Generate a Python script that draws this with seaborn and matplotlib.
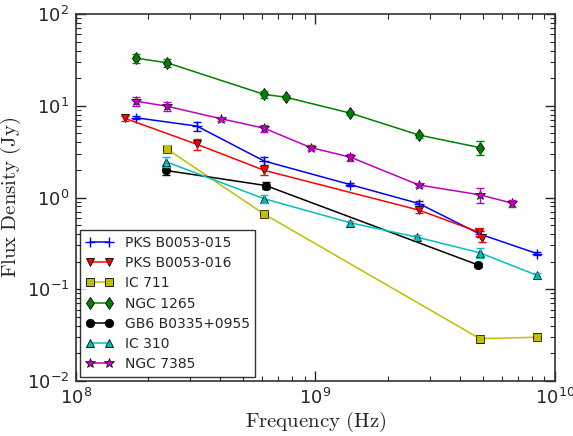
import matplotlib
matplotlib.use("Agg")
import matplotlib.pyplot as plt
import seaborn as sns
import pandas as pd
import numpy as np

# frequencies (Hz), flux densities (Jy) and errors per source
pks015_f = [1.78e8, 3.2e8, 6.1e8, 1.4e9, 2.7e9, 4.85e9, 8.4e9]
pks015_s = [7.4, 6.0, 2.5, 1.38, 0.86, 0.40, 0.245]
pks015_e = [0.3, 0.7, 0.25, 0.05, 0.06, 0.03, 0.01]

pks016_f = [1.6e8, 3.2e8, 6.1e8, 2.7e9, 4.8e9, 4.95e9]
pks016_s = [7.3, 3.8, 1.98, 0.73, 0.42, 0.36]
pks016_e = [0.4, 0.5, 0.2, 0.05, 0.04, 0.03]

ic711_f = [2.39e8, 6.1e8, 4.85e9, 8.4e9]
ic711_s = [3.4, 0.66, 0.029, 0.030]
ic711_e = [0.3, 0.05, 0.002, 0.002]

ngc1265_f = [1.78e8, 2.39e8, 6.1e8, 7.5e8, 1.4e9, 2.7e9, 4.85e9]
ngc1265_s = [33.0, 29.5, 13.3, 12.4, 8.3, 4.8, 3.5]
ngc1265_e = [3.5, 3.0, 1.3, 0.6, 0.4, 0.3, 0.6]

gb6_f = [2.38e8, 6.2e8, 4.75e9]
gb6_s = [1.97, 1.35, 0.185]
gb6_e = [0.2, 0.12, 0.01]

ic310_f = [2.38e8, 6.1e8, 1.4e9, 2.65e9, 4.85e9, 8.4e9]
ic310_s = [2.45, 0.97, 0.53, 0.37, 0.25, 0.142]
ic310_e = [0.3, 0.1, 0.03, 0.02, 0.03, 0.01]

ngc7385_f = [1.78e8, 2.39e8, 4.05e8, 6.1e8, 9.55e8, 1.4e9, 2.7e9, 4.85e9, 6.6e9]
ngc7385_s = [11.2, 9.9, 7.2, 5.7, 3.5, 2.75, 1.37, 1.07, 0.87]
ngc7385_e = [1.2, 1.1, 0.3, 0.5, 0.2, 0.25, 0.08, 0.2, 0.08]

sources = [
    ("PKS B0053-015", pks015_f, pks015_s, pks015_e, "blue", "+"),
    ("PKS B0053-016", pks016_f, pks016_s, pks016_e, "red", "v"),
    ("IC 711", ic711_f, ic711_s, ic711_e, "#bfbf00", "s"),
    ("NGC 1265", ngc1265_f, ngc1265_s, ngc1265_e, "green", "d"),
    ("GB6 B0335+0955", gb6_f, gb6_s, gb6_e, "black", "o"),
    ("IC 310", ic310_f, ic310_s, ic310_e, "#00bfbf", "^"),
    ("NGC 7385", ngc7385_f, ngc7385_s, ngc7385_e, "#bf00bf", "*"),
]

sns.set_style("ticks")
plt.rcParams["mathtext.fontset"] = "cm"
plt.rcParams["font.family"] = ["DejaVu Sans"]

fig = plt.figure(figsize=(5.73, 4.36), dpi=100)
ax = fig.add_axes([0.1326, 0.1261, 0.836, 0.8418])

for name, f, s, e, color, marker in sources:
    df = pd.DataFrame({"freq": f, "flux": s})
    if marker == "+":
        style = dict(markersize=7, markeredgecolor=color, markeredgewidth=1.0)
    elif marker == "*":
        style = dict(markersize=7, markeredgecolor="k", markeredgewidth=0.5)
    else:
        style = dict(markersize=6, markeredgecolor="k", markeredgewidth=0.6)
    sns.lineplot(data=df, x="freq", y="flux", ax=ax, sort=False, color=color,
                 marker=marker, linewidth=1.1, label=name, **style)
    ax.errorbar(f, s, yerr=e, fmt="none", ecolor=color, elinewidth=1.0, capsize=3, capthick=1.0)

ax.set_xscale("log")
ax.set_yscale("log")
ax.set_xlim(1e8, 1e10)
ax.set_ylim(1e-2, 1e2)

ax.xaxis.set_major_formatter(matplotlib.ticker.LogFormatterMathtext())
ax.yaxis.set_major_formatter(matplotlib.ticker.LogFormatterMathtext())
ax.tick_params(which="both", direction="in", top=True, right=True, labelsize=13, pad=5)
ax.tick_params(which="major", length=7, width=1)
ax.tick_params(which="minor", length=3.5, width=0.8)
for sp in ax.spines.values():
    sp.set_color("#333333")
    sp.set_linewidth(1.2)

ax.set_xlabel(r"$\mathrm{Frequency\ (Hz)}$", fontsize=15, labelpad=1)
ax.set_ylabel(r"$\mathrm{Flux\ Density\ (Jy)}$", fontsize=15, labelpad=0)
ax.yaxis.set_label_coords(-0.11, 0.5)

leg = ax.legend(loc="lower left", numpoints=2, fontsize=10, frameon=True, fancybox=False,
                borderpad=0.4, labelspacing=0.45, handlelength=2.0, borderaxespad=0.3)
leg.get_frame().set_edgecolor("black")
leg.get_frame().set_linewidth(1.0)

fig.savefig("out.png", dpi=100)
